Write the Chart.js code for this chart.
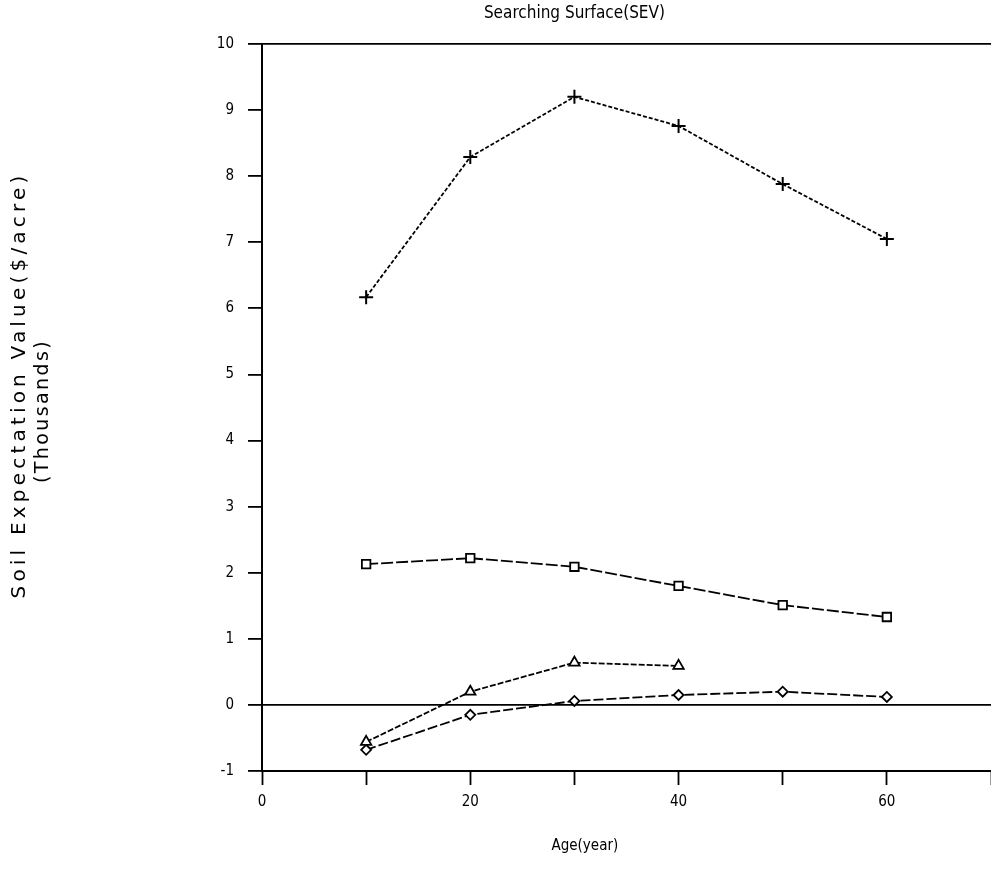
<!DOCTYPE html>
<html>
<head>
<meta charset="utf-8">
<script src="https://cdn.jsdelivr.net/npm/chart.js@4"></script>
<style>
  html, body { margin: 0; padding: 0; background: #ffffff; overflow: hidden; }
  #wrap { width: 1000px; height: 872px; }
</style>
</head>
<body>
<div id="wrap"><canvas id="chart"></canvas></div>
<script>
// ages (years)
const ages = [10, 20, 30, 40, 50, 60];

// soil expectation value, thousands $/acre
const plusSeries = [6.17, 8.29, 9.2, 8.76, 7.88, 7.05];
const squareSeries = [2.13, 2.22, 2.09, 1.8, 1.51, 1.33];
const triangleSeries = [-0.56, 0.2, 0.64, 0.59];
const diamondSeries = [-0.68, -0.15, 0.06, 0.15, 0.2, 0.12];

const xLabels = [0, 20, 40, 60];
const yRange = [-1, 10];

const chartTitle = "Searching Surface(SEV)";
const xTitle = "Age(year)";
const yTitle = ["Soil Expectation Value($/acre)", "(Thousands)"];

const toPoints = (vals) => vals.map((v, i) => ({ x: ages[i], y: v }));

function rotatedText(ctx, text, x, y, size, spacing) {
  ctx.save();
  ctx.fillStyle = "#000";
  ctx.textAlign = "center";
  ctx.textBaseline = "middle";
  ctx.font = size + "px 'DejaVu Sans'";
  ctx.letterSpacing = spacing;
  ctx.translate(x, y);
  ctx.rotate(-Math.PI / 2);
  ctx.fillText(text, 0, 0);
  ctx.restore();
}

// titles drawn by hand to sit where the scan has them
const textPlugin = {
  id: "texts",
  afterDraw(chart) {
    const ctx = chart.ctx;
    const xs = chart.scales.x;
    ctx.save();
    ctx.fillStyle = "#000";
    ctx.textAlign = "center";
    ctx.textBaseline = "middle";
    ctx.font = "17px 'DejaVu Sans Condensed', 'DejaVu Sans'";
    ctx.fillText(chartTitle, xs.getPixelForValue(30), 14);
    ctx.font = "15px 'DejaVu Sans Condensed', 'DejaVu Sans'";
    ctx.fillText(xTitle, xs.getPixelForValue(31), 846);
    ctx.restore();

    rotatedText(ctx, yTitle[0], 20, 385, 20, "4.2px");
    rotatedText(ctx, yTitle[1], 43, 411, 19, "2.4px");
  },
};

const tickFont = { family: "'DejaVu Sans Condensed', 'DejaVu Sans'", size: 15 };

new Chart(document.getElementById("chart"), {
  type: "line",
  data: {
    datasets: [
      {
        data: toPoints(plusSeries),
        borderColor: "#000",
        borderWidth: 1.8,
        borderDash: [4, 2],
        pointStyle: "cross",
        pointRadius: 7,
        pointBorderWidth: 2,
        pointBorderColor: "#000",
      },
      {
        data: toPoints(squareSeries),
        borderColor: "#000",
        borderWidth: 1.8,
        borderDash: [12, 3],
        pointStyle: "rect",
        pointRadius: 6,
        pointBorderWidth: 1.8,
        pointBorderColor: "#000",
        pointBackgroundColor: "#fff",
      },
      {
        data: toPoints(triangleSeries),
        borderColor: "#000",
        borderWidth: 1.8,
        borderDash: [6, 2],
        pointStyle: "triangle",
        pointRadius: 6,
        pointBorderWidth: 1.8,
        pointBorderColor: "#000",
        pointBackgroundColor: "#fff",
      },
      {
        data: toPoints(diamondSeries),
        borderColor: "#000",
        borderWidth: 1.8,
        borderDash: [10, 3],
        pointStyle: "rectRot",
        pointRadius: 5,
        pointBorderWidth: 1.8,
        pointBorderColor: "#000",
        pointBackgroundColor: "#fff",
      },
    ],
  },
  options: {
    responsive: true,
    maintainAspectRatio: false,
    animation: false,
    layout: { padding: { top: 44, right: 2, bottom: 0, left: 0 } },
    plugins: {
      legend: { display: false },
      tooltip: { enabled: false },
      title: { display: false },
    },
    scales: {
      x: {
        type: "linear",
        min: 0,
        max: 70,
        afterFit: (s) => { s.height = 101; },
        border: { display: true, color: "#000", width: 2 },
        grid: {
          drawOnChartArea: false,
          drawTicks: true,
          tickLength: 14,
          tickColor: "#000",
          tickWidth: 1.8,
        },
        ticks: {
          stepSize: 10,
          padding: 8,
          color: "#000",
          font: tickFont,
          maxRotation: 0,
          callback: (v) => (xLabels.includes(v) ? String(v) : ""),
        },
      },
      y: {
        min: yRange[0],
        max: yRange[1],
        afterFit: (s) => { s.width = 262; },
        border: { display: true, color: "#000", width: 2 },
        grid: {
          drawOnChartArea: true,
          drawTicks: true,
          tickLength: 14,
          tickColor: "#000",
          tickWidth: 1.8,
          lineWidth: 1.8,
          color: (c) => (c.tick && (c.tick.value === 0 || c.tick.value === 10) ? "#000" : "rgba(0,0,0,0)"),
        },
        ticks: {
          stepSize: 1,
          padding: 14,
          color: "#000",
          font: tickFont,
        },
      },
    },
  },
  plugins: [textPlugin],
});
</script>
</body>
</html>
